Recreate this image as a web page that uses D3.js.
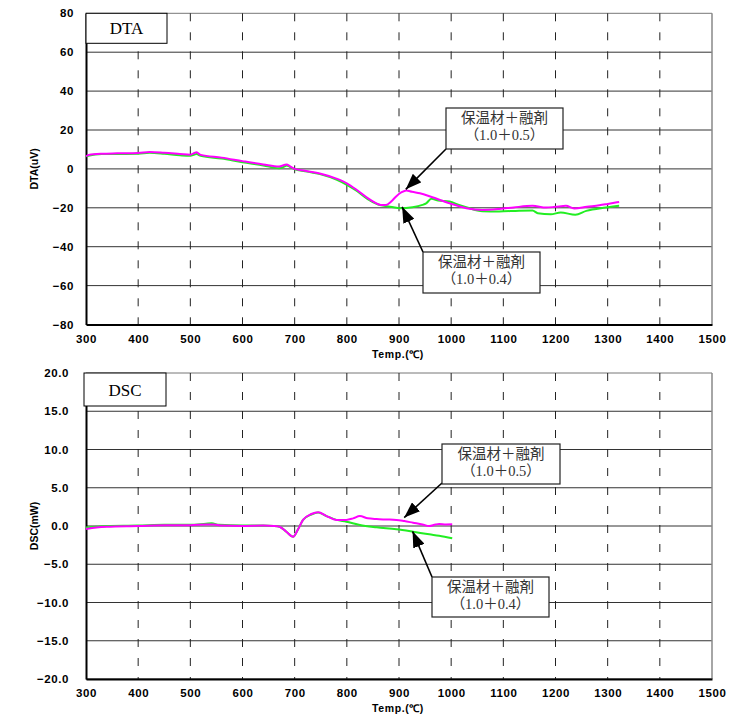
<!DOCTYPE html>
<html><head><meta charset="utf-8">
<script src="https://cdn.jsdelivr.net/npm/d3@7"></script>
<style>body{margin:0;background:#fff}svg{display:block}</style>
</head><body>
<svg id="c" width="742" height="724"></svg>
<script>
// ---- data ----
const xTicks = [300,400,500,600,700,800,900,1000,1100,1200,1300,1400,1500];
const dtaTicks = [-80,-60,-40,-20,0,20,40,60,80];
const dscTicks = [-20,-15,-10,-5,0,5,10,15,20];

const dta05T = [300,305,330,360,400,422,450,480,500,508,512,520,560,600,640,670,680,685,690,700,720,750,780,800,820,840,855,865,875,885,895,905,914,925,940,964,997,1029,1060,1092,1120,1156,1182,1200,1220,1236,1260,1284,1300,1322];
const dta05V = [6.5,7.2,7.8,8.0,8.2,8.7,8.3,7.7,7.3,8.2,8.5,7.2,5.8,4.0,2.3,1.2,2.0,2.3,1.5,0,-1,-2.5,-5,-7.4,-11,-15,-17.5,-18.5,-18.6,-16.8,-14,-12,-11.1,-11.8,-12.5,-14.6,-17.7,-20.2,-21.1,-20.6,-19.8,-19.0,-19.9,-19.5,-19,-20.4,-19.5,-18.7,-18,-17];

const dta04T = [300,330,400,422,450,480,500,508,512,520,560,600,640,670,680,685,690,700,720,750,780,800,820,840,860,880,901,926,945,952,962,975,997,1015,1029,1060,1092,1130,1156,1166,1191,1210,1238,1259,1296,1322];
const dta04V = [6.5,7.6,7.8,8.3,7.8,7.0,6.7,7.4,7.6,6.7,5.3,3.4,1.8,0.3,1.2,1.8,1.2,-0.2,-1.2,-2.8,-5.5,-8.2,-11.5,-15.5,-18.3,-19.3,-20.2,-19.7,-18.5,-17.7,-15.4,-16.2,-16.8,-18.5,-19.7,-21.8,-21.9,-21.5,-21.4,-22.8,-23.3,-22.4,-23.6,-21.6,-19.9,-19.0];

const dsc05T = [300,320,340,400,450,500,530,545,560,600,640,660,671,684,697,706,716,732,745,761,780,799,812,825,840,857,875,895,910,927,945,958,970,977,990,1002];
const dsc05V = [-0.4,-0.2,-0.1,0.0,0.1,0.1,0.2,0.2,0.05,0.0,0.05,0.0,-0.1,-0.75,-1.4,-0.5,0.8,1.57,1.8,1.3,0.8,0.8,1.0,1.3,1.0,0.9,0.85,0.8,0.65,0.43,0.2,0.0,0.2,0.26,0.2,0.22];

const dsc04T = [300,320,340,400,450,500,530,541,555,600,640,660,671,684,697,706,716,732,745,761,780,799,825,857,895,927,958,977,1002];
const dsc04V = [-0.2,-0.1,0.0,0.05,0.15,0.15,0.3,0.35,0.15,0.05,0.05,0.0,-0.1,-0.75,-1.4,-0.5,0.8,1.5,1.75,1.3,0.8,0.56,0.13,-0.17,-0.43,-0.75,-1.09,-1.27,-1.6];

const lab05 = ["保温材＋融剤","（1.0＋0.5）"];
const lab04 = ["保温材＋融剤","（1.0＋0.4）"];

// ---- drawing ----
const svg = d3.select("#c");
svg.append("rect").attr("width",742).attr("height",724).attr("fill","#fff");
const defs = svg.append("defs");
defs.append("marker").attr("id","ah").attr("viewBox","0 0 16 12")
  .attr("refX",16).attr("refY",6).attr("markerWidth",16).attr("markerHeight",12)
  .attr("markerUnits","userSpaceOnUse").attr("orient","auto")
  .append("path").attr("d","M0,0 L16,6 L0,12 Z").attr("fill","#000");

const x = d3.scaleLinear().domain([300,1500]).range([86,712]);

function panel(cfg){
  const g = svg.append("g");
  const y = d3.scaleLinear().domain(cfg.domain).range([cfg.bottom,cfg.top]);
  g.selectAll(".hg").data(cfg.yTicks).enter().append("line")
    .attr("x1",x(300)).attr("x2",x(1500)).attr("y1",d=>y(d)).attr("y2",d=>y(d))
    .attr("stroke",(d,i)=> (i===cfg.yTicks.length-1)?"#777":"#333").attr("stroke-width",1);
  g.selectAll(".vg").data(xTicks.slice(1,-1)).enter().append("line")
    .attr("x1",d=>x(d)).attr("x2",d=>x(d)).attr("y1",cfg.top).attr("y2",cfg.bottom)
    .attr("stroke","#222").attr("stroke-width",1).attr("stroke-dasharray","8,11");
  g.append("line").attr("x1",x(1500)).attr("x2",x(1500)).attr("y1",cfg.top).attr("y2",cfg.bottom)
    .attr("stroke","#888").attr("stroke-width",1.5);
  const ax = g.append("g").attr("transform",`translate(0,${cfg.bottom})`)
    .call(d3.axisBottom(x).tickValues(xTicks).tickFormat(d3.format("d")).tickSize(0).tickPadding(10));
  ax.select(".domain").attr("stroke","#000").attr("stroke-width",2);
  ax.selectAll("text").attr("font-family","Liberation Sans, Arial, sans-serif")
    .attr("font-weight","bold").attr("font-size","11.5px").attr("letter-spacing","0.6px").attr("fill","#000");
  const ay = g.append("g").attr("transform",`translate(${x(300)},0)`)
    .call(d3.axisLeft(y).tickValues(cfg.yTicks).tickFormat(cfg.fmt).tickSize(0).tickPadding(cfg.pad));
  ay.select(".domain").attr("stroke","#000").attr("stroke-width",2);
  ay.selectAll("text").attr("font-family","Liberation Sans, Arial, sans-serif")
    .attr("font-weight","bold").attr("font-size","11.5px").attr("letter-spacing","0.6px").attr("fill","#000");
  g.append("text").attr("x",398).attr("y",cfg.bottom+33).attr("text-anchor","middle")
    .attr("font-family","Liberation Sans, Arial, sans-serif").attr("font-weight","bold")
    .attr("font-size","10.5px").attr("letter-spacing","0.6px").text("Temp.(℃)");
  g.append("text").attr("transform",`translate(38,${y(0)}) rotate(-90)`).attr("text-anchor","middle")
    .attr("font-family","Liberation Sans, Arial, sans-serif").attr("font-weight","bold")
    .attr("font-size","10.5px").text(cfg.ytitle);
  const line = d3.line().x(d=>x(d[0])).y(d=>y(d[1])).curve(d3.curveMonotoneX);
  g.append("path").datum(d3.zip(cfg.s04T,cfg.s04V)).attr("d",line)
    .attr("fill","none").attr("stroke","#22ee22").attr("stroke-width",2);
  g.append("path").datum(d3.zip(cfg.s05T,cfg.s05V)).attr("d",line)
    .attr("fill","none").attr("stroke","#ff00ff").attr("stroke-width",2);
  g.append("rect").attr("x",cfg.box[0]).attr("y",cfg.box[1]).attr("width",cfg.box[2]).attr("height",cfg.box[3])
    .attr("fill","#fff").attr("stroke","#000").attr("stroke-width",1);
  g.append("text").attr("x",cfg.box[0]+cfg.box[2]/2).attr("y",cfg.box[1]+cfg.box[3]/2+6)
    .attr("text-anchor","middle").attr("font-family","Liberation Serif, serif").attr("font-size","17px").text(cfg.name);
  cfg.ann.forEach(a=>{
    g.append("line").attr("x1",a.from[0]).attr("y1",a.from[1])
      .attr("x2",x(a.tip[0])).attr("y2",y(a.tip[1]))
      .attr("stroke","#000").attr("stroke-width",1.6).attr("marker-end","url(#ah)");
    g.append("rect").attr("x",a.box[0]).attr("y",a.box[1]).attr("width",a.box[2]).attr("height",a.box[3])
      .attr("fill","#fff").attr("stroke","#222").attr("stroke-width",1.2);
    a.text.forEach((t,i)=>{
      g.append("text").attr("x",a.box[0]+a.box[2]/2).attr("y",a.box[1]+15+i*17)
        .attr("text-anchor","middle").attr("font-family","Liberation Serif, 'Noto Sans CJK JP', serif")
        .attr("font-size","14.5px").attr("fill","#333").text(t);
    });
  });
}

panel({domain:[-80,80], top:13.3, bottom:324.5, yTicks:dtaTicks, fmt:d3.format("d"), pad:12,
  ytitle:"DTA(uV)", name:"DTA", box:[86,13.3,81,30],
  s05T:dta05T, s05V:dta05V, s04T:dta04T, s04V:dta04V,
  ann:[{from:[446,149],tip:[913,-10.5],box:[446,108,117,41],text:lab05},
       {from:[423,252],tip:[906,-19.5],box:[423,252,117,41],text:lab04}]});

panel({domain:[-20,20], top:373, bottom:679, yTicks:dscTicks, fmt:d3.format(".1f"), pad:17,
  ytitle:"DSC(mW)", name:"DSC", box:[84,373,82,33],
  s05T:dsc05T, s05V:dsc05V, s04T:dsc04T, s04V:dsc04V,
  ann:[{from:[442,483],tip:[910,1.1],box:[442,444,118,40],text:lab05},
       {from:[432,577],tip:[926,-0.7],box:[432,577,117,40],text:lab04}]});
</script>
</body></html>
